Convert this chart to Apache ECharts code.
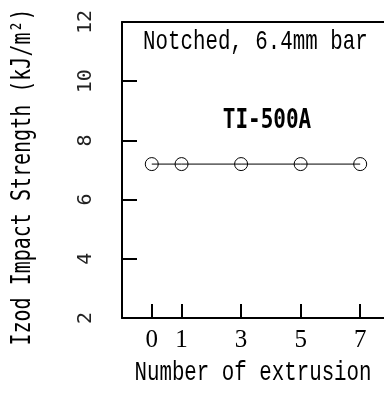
<!DOCTYPE html>
<html><head><meta charset="utf-8">
<script src="https://cdn.jsdelivr.net/npm/echarts@6/dist/echarts.min.js"></script>
<style>html,body{margin:0;padding:0;background:#fff}#c{width:384px;height:393px}</style>
</head><body><div id="c"></div>
<script>
const extrusions = [0, 1, 3, 5, 7];
const strength = [7.2, 7.2, 7.2, 7.2, 7.2];
const xTicks = [0, 1, 3, 5, 7];
const yTicks = [2, 4, 6, 8, 10, 12];
const yTitle = 'Izod Impact Strength (kJ/m\u00b2)';
const xTitle = 'Number of extrusion';
const noteText = 'Notched, 6.4mm bar';
const seriesName = 'TI-500A';

const chart = echarts.init(document.getElementById('c'), null, {renderer: 'canvas'});
chart.setOption({
  animation: false,
  backgroundColor: '#fff',
  grid: {left: 122, top: 22, right: 0, bottom: 75, show: false},
  xAxis: [{
    type: 'value', min: -1, max: 7.8, position: 'bottom',
    axisLine: {show: true, onZero: false, lineStyle: {color: '#000', width: 2}},
    axisTick: {show: true, inside: true, length: 14, lineStyle: {color: '#000', width: 2}, customValues: xTicks},
    axisLabel: {show: true, customValues: xTicks, margin: 10, color: '#000', fontFamily: 'Liberation Serif', fontSize: 25},
    splitLine: {show: false}
  }, {
    type: 'value', min: -1, max: 7.8, position: 'top',
    axisLine: {show: true, onZero: false, lineStyle: {color: '#000', width: 2}},
    axisTick: {show: false}, axisLabel: {show: false}, splitLine: {show: false}
  }],
  yAxis: {
    type: 'value', min: 2, max: 12, interval: 2,
    axisLine: {show: true, onZero: false, lineStyle: {color: '#000', width: 2}},
    axisTick: {show: true, inside: true, length: 15, lineStyle: {color: '#000', width: 2}},
    axisLabel: {show: true, rotate: 90, margin: 26, color: '#222', fontFamily: 'DejaVu Sans Mono', fontSize: 20,
      formatter: v => yTicks.includes(v) ? String(v) : ''},
    splitLine: {show: false}
  },
  graphic: [
    {type: 'text', x: 23, y: 177, rotation: Math.PI / 2, scaleX: 1, scaleY: 1.3,
      style: {text: yTitle, x: 0, y: 0, align: 'center', verticalAlign: 'middle', font: '20px "DejaVu Sans Mono"', fill: '#000'}},
    {type: 'text', x: 253, y: 373, scaleX: 1, scaleY: 1.3,
      style: {text: xTitle, x: 0, y: 0, align: 'center', verticalAlign: 'middle', font: '20.8px "Liberation Mono"', fill: '#000'}},
    {type: 'text', x: 143, y: 42, scaleX: 1, scaleY: 1.3,
      style: {text: noteText, x: 0, y: 0, align: 'left', verticalAlign: 'middle', font: '20.8px "Liberation Mono"', fill: '#000'}},
    {type: 'text', x: 267, y: 121, scaleX: 1, scaleY: 1.25,
      style: {text: seriesName, x: 0, y: 0, align: 'center', verticalAlign: 'middle', font: 'bold 21px "DejaVu Sans Mono"', fill: '#000'}}
  ],
  series: [{
    type: 'line', name: seriesName, xAxisIndex: 0,
    data: extrusions.map((x, i) => [x, strength[i]]),
    symbol: 'circle', symbolSize: 13,
    lineStyle: {color: '#000', width: 1},
    itemStyle: {color: 'rgba(0,0,0,0)', borderColor: '#000', borderWidth: 1},
    z: 3
  }]
});
</script></body></html>
